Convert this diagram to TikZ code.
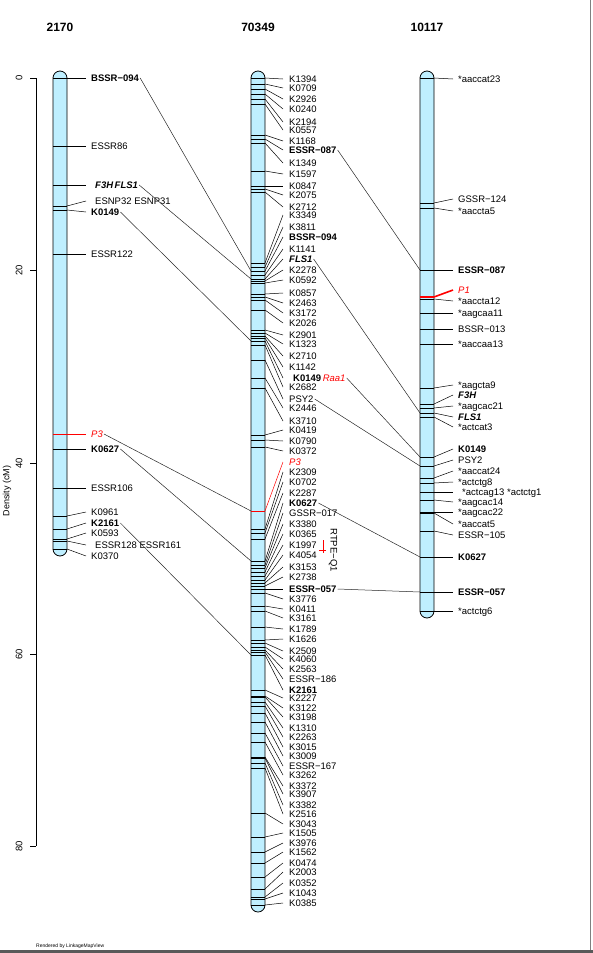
\documentclass[tikz,border=0pt]{standalone}
\usepackage{fontspec}
\setmainfont{Liberation Sans}
\definecolor{barblue}{RGB}{191,239,255}
\tikzset{
  mk/.style={anchor=west, inner sep=1pt, text height=6.8pt, text depth=0pt, font=\fontsize{9.5}{10}\selectfont},
  mkb/.style={mk, font=\fontsize{9.5}{10}\selectfont\bfseries},
  mkbi/.style={mk, font=\fontsize{9.5}{10}\selectfont\bfseries\itshape},
  mkr/.style={mk, text=red, font=\fontsize{9.5}{10}\selectfont\itshape},
  ind/.style={xshift=4pt},
  chrbar/.style={draw, line width=0.8pt, fill=barblue, rounded corners=7pt},
  mline/.style={line width=0.8pt},
  ldr/.style={line width=0.5pt},
  cx/.style={line width=0.5pt, draw=black!85},
  title/.style={font=\fontsize{12}{14}\selectfont\bfseries}
}
\newcommand{\mrk}[6][]{%
  \coordinate (a\cid-#5) at (\xa,#2);
  \coordinate (b\cid-#5) at (\xb,#2);
  \coordinate (e\cid-#5) at (\xe,#3);
  \draw[mline,#1] (a\cid-#5) -- (b\cid-#5);
  \draw[ldr,#1] (b\cid-#5) -- (e\cid-#5);
  \node[#4] (n\cid-#5) at (\xl,#3) {#6};}
\begin{document}
\begin{tikzpicture}[x=1pt,y=-1pt]
\useasboundingbox (0,0) rectangle (593,953);
% axis
\draw[line width=0.8pt] (36,78) -- (36,846);
\foreach \v/\y in {0/78,20/270,40/463,60/654,80/846} {
  \draw[line width=0.8pt] (30,\y) -- (36,\y);
  \node[rotate=90, font=\fontsize{9.5}{10}\selectfont] (tk\v) at (19,\y) {\v};
}
\node[rotate=90, font=\fontsize{9}{10}\selectfont] (ylab) at (7,491) {Density (cM)};
% titles
\node[title] (t1) at (60,27) {2170};
\node[title] (t2) at (258,27) {70349};
\node[title] (t3) at (427,27) {10117};
% bars
\draw[chrbar] (53,71) rectangle (67,556);
\draw[chrbar] (251,71) rectangle (265,912);
\draw[chrbar] (420,71) rectangle (434,618);
% 2170
\def\cid{1}\def\xa{53}\def\xb{67}\def\xe{86}\def\xl{90}
\mrk{78}{78}{mkb}{BSSR094}{BSSR−094}
\mrk{146}{146}{mk}{ESSR86}{ESSR86}
\mrk{185}{185}{mkbi,ind}{F3HFLS1}{F3H\,FLS1}
\mrk{206}{201}{mk,ind}{ESNP32}{ESNP32 ESNP31}
\mrk{210}{212}{mkb}{K0149}{K0149}
\mrk{254}{254}{mk}{ESSR122}{ESSR122}
\mrk[red]{434}{434}{mkr}{P3}{P3}
\mrk{449}{449}{mkb}{K0627}{K0627}
\mrk{488}{488}{mk}{ESSR106}{ESSR106}
\mrk{516}{512}{mk}{K0961}{K0961}
\mrk{529}{523}{mkb}{K2161}{K2161}
\mrk{539}{533}{mk}{K0593}{K0593}
\mrk{541}{545}{mk,ind}{ESSR128}{ESSR128 ESSR161}
\mrk{549}{556}{mk}{K0370}{K0370}
% 70349
\def\cid{2}\def\xa{251}\def\xb{265}\def\xe{283}\def\xl{288}
\foreach \py/\ly/\nm in {78/79/K1394, 84/88/K0709, 89/99/K2926, 94/109/K0240,
  99/122/K2194, 104/130/K0557, 135/141/K1168, 143/163/K1349, 171/174/K1597,
  186/186/K0847, 189/195/K2075, 192/207/K2712, 263/215/K3349, 267/227/K3811,
  275/249/K1141, 281/270/K2278, 283/280/K0592, 294/293/K0857, 297/303/K2463,
  300/313/K3172, 310/323/K2026, 330/335/K2901, 333/344/K1323, 336/356/K2710,
  338/367/K1142, 345/387/K2682, 360/399/PSY2, 378/408/K2446, 388/421/K3710,
  435/430/K0419, 440/441/K0790, 447/451/K0372, 529/472/K2309, 533/482/K0702,
  539/493/K2287, 568/524/K3380, 572/534/K0365, 576/545/K1997, 580/555/K4054,
  583/567/K3153, 586/577/K2738, 593/599/K3776, 606/609/K0411, 611/618/K3161,
  627/629/K1789, 640/639/K1626, 643/651/K2509, 647/659/K4060, 650/669/K2563,
  690/698/K2227, 696/708/K3122, 697/717/K3198, 702/728/K1310, 706/737/K2263,
  713/747/K3015, 722/756/K3009, 742/775/K3262, 757/786/K3372, 758/794/K3907,
  763/805/K3382, 768/814/K2516, 813/824/K3043, 837/833/K1505, 852/843/K3976,
  863/852/K1562, 877/863/K0474, 889/872/K2003, 897/883/K0352, 899/893/K1043,
  905/903/K0385}
  {\mrk{\py}{\ly}{mk}{\nm}{\nm}}
\mrk{139}{150}{mkb}{ESSR087}{ESSR−087}
\mrk{271}{237}{mkb}{BSSR094}{BSSR−094}
\mrk{279}{259}{mkbi}{FLS1}{FLS1}
\mrk{341}{378}{mk,ind}{K0149}{\textbf{K0149}\,\textcolor{red}{\textit{Raa1}}}
\mrk[red]{511}{462}{mkr}{P3}{P3}
\mrk{561}{503}{mkb}{K0627}{K0627}
\mrk{565}{513}{mk}{GSSR017}{GSSR−017}
\mrk{589}{589}{mkb}{ESSR057}{ESSR−057}
\mrk{652}{679}{mk}{ESSR186}{ESSR−186}
\mrk{655}{690}{mkb}{K2161}{K2161}
\mrk{733}{766}{mk}{ESSR167}{ESSR−167}
% QTL
\draw[red, line width=0.8pt] (323,540) -- (323,553);
\draw[red, line width=0.8pt] (319,550) -- (326,550);
\node[rotate=-90, font=\fontsize{9.5}{10}\selectfont] (qtl) at (333,550) {RTPE−Q1};
% 10117
\def\cid{3}\def\xa{420}\def\xb{434}\def\xe{453}\def\xl{457}
\mrk{78}{79}{mk}{aaccat23}{*aaccat23}
\mrk{203}{199}{mk}{GSSR124}{GSSR−124}
\mrk{208}{211}{mk}{aaccta5}{*aaccta5}
\mrk{270}{270}{mkb}{ESSR087}{ESSR−087}
\mrk{299}{301}{mk}{aaccta12}{*aaccta12}
\mrk[red,line width=1.6pt]{297}{290}{mkr}{P1}{P1}
\mrk{313}{313}{mk}{aagcaa11}{*aagcaa11}
\mrk{329}{329}{mk}{BSSR013}{BSSR−013}
\mrk{344}{344}{mk}{aaccaa13}{*aaccaa13}
\mrk{388}{385}{mk}{aagcta9}{*aagcta9}
\mrk{404}{395}{mkbi}{F3H}{F3H}
\mrk{408}{406}{mk}{aagcac21}{*aagcac21}
\mrk{413}{417}{mkbi}{FLS1}{FLS1}
\mrk{417}{427}{mk}{actcat3}{*actcat3}
\mrk{457}{449}{mkb}{K0149}{K0149}
\mrk{466}{460}{mk}{PSY2}{PSY2}
\mrk{478}{471}{mk}{aaccat24}{*aaccat24}
\mrk{483}{482}{mk}{actctg8}{*actctg8}
\mrk{492}{492}{mk,ind}{actcag13}{*actcag13 *actctg1}
\mrk{500}{502}{mk}{aagcac14}{*aagcac14}
\mrk{512}{512}{mk}{aagcac22}{*aagcac22}
\mrk{513}{524}{mk}{aaccat5}{*aaccat5}
\mrk{531}{535}{mk}{ESSR105}{ESSR−105}
\mrk{557}{557}{mkb}{K0627}{K0627}
\mrk{592}{592}{mkb}{ESSR057}{ESSR−057}
\mrk{611}{611}{mk}{actctg6}{*actctg6}
% links
\draw[cx] (n1-BSSR094.east) -- (a2-BSSR094);
\draw[cx] (n1-F3HFLS1.east) -- (a2-FLS1);
\draw[cx] (n1-K0149.east) -- (a2-K0149);
\draw[cx] (n1-P3.east) -- (a2-P3);
\draw[cx] (n1-K0627.east) -- (a2-K0627);
\draw[cx] (n1-K2161.east) -- (a2-K2161);
\draw[cx] (n2-ESSR087.east) -- (a3-ESSR087);
\draw[cx] (n2-FLS1.east) -- (a3-FLS1);
\draw[cx] (n2-K0149.east) -- (a3-K0149);
\draw[cx] (n2-PSY2.east) -- (a3-PSY2);
\draw[cx] (n2-K0627.east) -- (a3-K0627);
\draw[cx] (n2-ESSR057.east) -- (a3-ESSR057);
% frame
\draw[gray, line width=0.8pt] (590,0) -- (590,950);
\fill[black!65] (0,950) rectangle (593,953);
\node[anchor=west, inner sep=0pt, font=\fontsize{5}{6}\selectfont] (rend) at (36,946) {Rendered by LinkageMapView};
\end{tikzpicture}
\end{document}
